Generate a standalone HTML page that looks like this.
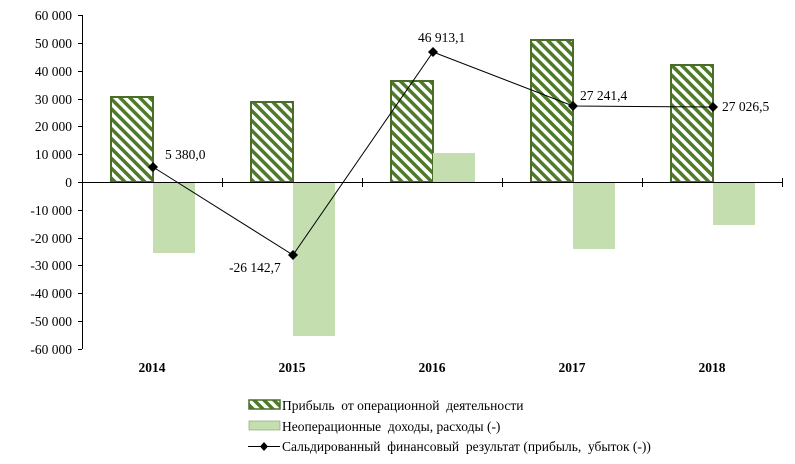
<!DOCTYPE html><html><head><meta charset="utf-8"><style>body{margin:0;background:#fff}svg{display:block}text{font-family:"Liberation Serif",serif;font-size:13.5px;fill:#000;white-space:pre}</style></head><body>
<svg width="795" height="464" viewBox="0 0 795 464">
<defs><pattern id="h" patternUnits="userSpaceOnUse" width="7" height="7" patternTransform="rotate(-45)"><rect width="7" height="7" fill="#fff"/><rect width="3.5" height="7" fill="#4f7a2a"/></pattern></defs>
<g text-anchor="end">
<text x="72" y="20">60 000</text><text x="72" y="48">50 000</text><text x="72" y="76">40 000</text><text x="72" y="104">30 000</text><text x="72" y="131">20 000</text><text x="72" y="159">10 000</text><text x="72" y="187">0</text><text x="72" y="215">-10 000</text><text x="72" y="243">-20 000</text><text x="72" y="270">-30 000</text><text x="72" y="298">-40 000</text><text x="72" y="326">-50 000</text><text x="72" y="354">-60 000</text>
</g>
<g stroke="#000" stroke-width="1">
<line x1="82.5" y1="15" x2="82.5" y2="349"/>
<line x1="78" y1="15.5" x2="82" y2="15.5"/><line x1="78" y1="43.5" x2="82" y2="43.5"/><line x1="78" y1="71.5" x2="82" y2="71.5"/><line x1="78" y1="99.5" x2="82" y2="99.5"/><line x1="78" y1="126.5" x2="82" y2="126.5"/><line x1="78" y1="154.5" x2="82" y2="154.5"/><line x1="78" y1="182.5" x2="82" y2="182.5"/><line x1="78" y1="210.5" x2="82" y2="210.5"/><line x1="78" y1="238.5" x2="82" y2="238.5"/><line x1="78" y1="265.5" x2="82" y2="265.5"/><line x1="78" y1="293.5" x2="82" y2="293.5"/><line x1="78" y1="321.5" x2="82" y2="321.5"/><line x1="78" y1="349.5" x2="82" y2="349.5"/>
</g>
<g stroke="#4a6e2a" stroke-width="2" fill="url(#h)">
<rect x="111" y="97" width="42" height="85"/>
<rect x="251" y="102" width="42" height="80"/>
<rect x="391" y="81" width="42" height="101"/>
<rect x="531" y="40" width="42" height="142"/>
<rect x="671" y="65" width="42" height="117"/>
</g>
<g fill="#c4deb0">
<rect x="153" y="182" width="42" height="71"/>
<rect x="293" y="182" width="42" height="154"/>
<rect x="433" y="153" width="42" height="29"/>
<rect x="573" y="182" width="42" height="67"/>
<rect x="713" y="182" width="42" height="43"/>
</g>
<g stroke="#000"><line x1="82" y1="182.5" x2="783" y2="182.5"/>
<line x1="222.5" y1="178" x2="222.5" y2="187"/><line x1="362.5" y1="178" x2="362.5" y2="187"/><line x1="502.5" y1="178" x2="502.5" y2="187"/><line x1="642.5" y1="178" x2="642.5" y2="187"/><line x1="782.5" y1="178" x2="782.5" y2="187"/></g>
<polyline points="153,167 293,255 433,52 573,106 713,107" fill="none" stroke="#000" stroke-width="1"/>
<g fill="#000"><path d="M153 162l5 5-5 5-5-5z"/><path d="M293 250l5 5-5 5-5-5z"/><path d="M433 47l5 5-5 5-5-5z"/><path d="M573 101l5 5-5 5-5-5z"/><path d="M713 102l5 5-5 5-5-5z"/></g>
<text x="165" y="159">5 380,0</text><text x="229" y="272">-26 142,7</text><text x="418" y="42">46 913,1</text><text x="580" y="100">27 241,4</text><text x="722" y="111">27 026,5</text>
<g text-anchor="middle"><text x="152" y="372" style="font-weight:bold">2014</text><text x="292" y="372" style="font-weight:bold">2015</text><text x="432" y="372" style="font-weight:bold">2016</text><text x="572" y="372" style="font-weight:bold">2017</text><text x="712" y="372" style="font-weight:bold">2018</text></g>
<rect x="249" y="400" width="31" height="9" fill="url(#h)" stroke="#4a6e2a" stroke-width="1.5"/>
<text x="282" y="410">Прибыль  от операционной  деятельности</text>
<rect x="249" y="421" width="31" height="9" fill="#c4deb0" stroke="#8aa878" stroke-width="0.7"/>
<text x="282" y="431">Неоперационные  доходы, расходы (-)</text>
<line x1="248" y1="446.5" x2="280" y2="446.5" stroke="#000"/><path d="M264 442l4 4.5-4 4.5-4-4.5z"/>
<text x="282" y="451">Сальдированный  финансовый  результат (прибыль,  убыток (-))</text>
</svg></body></html>
